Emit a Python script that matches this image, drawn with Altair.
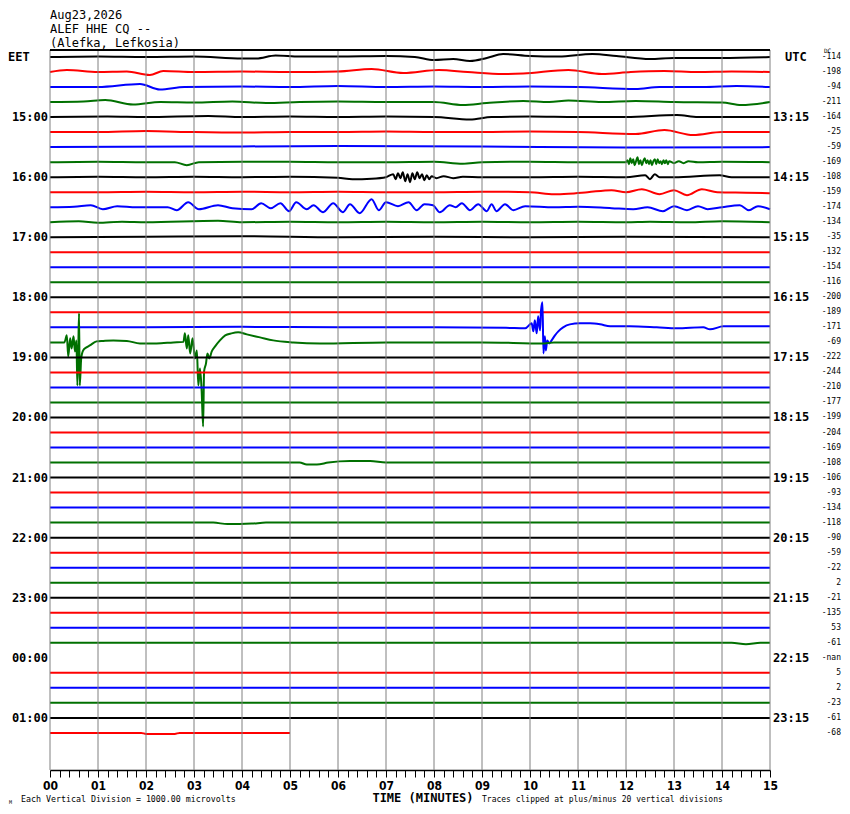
import altair as alt
import pandas as pd

# ---------------- data ----------------
TRACE_COLORS = ["#000000", "#ff0000", "#0000ff", "#007000"]
N_ROWS = 46
MISSING_ROWS = [40]
ROW_END = {45: 5.0}
ROW_SPACING_UNITS = 15.0  # amplitude units per trace spacing

DC_VALUES = ["-114", "-198", "-94", "-211", "-164", "-25", "-59", "-169",
             "-108", "-159", "-174", "-134", "-35", "-132", "-154", "-116",
             "-200", "-189", "-171", "-69", "-222", "-244", "-210", "-177",
             "-199", "-204", "-169", "-108", "-106", "-93", "-134", "-118",
             "-90", "-59", "-22", "2", "-21", "-135", "53", "-61",
             "-nan", "5", "2", "-23", "-61", "-68"]

HOUR_ROWS = [4, 8, 12, 16, 20, 24, 28, 32, 36, 40, 44]
EET_LABELS = ["15:00", "16:00", "17:00", "18:00", "19:00", "20:00",
              "21:00", "22:00", "23:00", "00:00", "01:00"]
UTC_LABELS = ["13:15", "14:15", "15:15", "16:15", "17:15", "18:15",
              "19:15", "20:15", "21:15", "22:15", "23:15"]

MINUTES = list(range(16))
MINOR_TICKS = [round(i / 5, 1) for i in range(76)]

# (minute, amplitude) points; rows not listed are flat
TRACE_POINTS = {
    0: [(0, 0), (1, 0.5), (2, 0), (3, 0.5), (4, -1.5), (4.3, -1.5), (4.7, 1.5),
        (5.2, 0.5), (6, 0.5), (7, 1), (7.6, 0), (8, -3), (8.4, -2), (8.75, -4),
        (9.1, -1), (9.44, 3), (10, 1), (10.6, 0.5), (11.3, 3), (11.8, 1),
        (12.5, -2), (13, -1), (14, -1), (15, 0)],
    1: [(0, 0), (0.35, 2), (1, 0), (1.6, 0.5), (2.08, -3), (2.36, 1), (3, 0),
        (4, 0.5), (5, 0), (6, 0.5), (6.7, 3), (7.36, -1), (8.1, 2), (8.7, 0),
        (9.44, -2), (9.86, -1.5), (10.8, 2), (11.5, -2), (12.1, 0), (12.8, 1),
        (13.5, 0), (14.2, 0.5), (15, 0)],
    2: [(0, 0), (1, 0), (1.875, 3), (2.29, -2.5), (2.8, 0), (4, 0.5), (5, 0),
        (6, 1), (7, 0), (8, 0.5), (9, 0), (10, 0.5), (11, 0), (12.2, -2),
        (12.7, 0), (13.6, 0), (14.3, 1), (15, 0)],
    3: [(0, 0), (0.7, 0.5), (1.15, 2), (1.73, -2.5), (2.3, 0), (3, -0.5),
        (3.8, 0.5), (4.5, -1), (5.2, 0), (6, 0.5), (7, 0), (8, 0), (8.6, -3),
        (9.1, -1), (9.86, 1), (10.4, 0), (10.8, 1.5), (11.5, 0), (12.2, 1),
        (13, 0), (14, -0.5), (14.4, -3), (15, 0)],
    4: [(0, 0), (1.2, 0.5), (2, 0), (3.3, 1), (4, 0), (5, 0.5), (6, 0),
        (7, 0.5), (8, 0), (8.75, -2.5), (9.2, 0), (10, 0.5), (11, 0), (12, 0),
        (13.06, 2), (13.5, 0), (15, 0)],
    5: [(0, 0), (1, 0), (2, 1), (3, 0), (4, -0.5), (5, 0), (6, 0), (7, 0.5),
        (8, 0), (9, 0), (10, 0.5), (11, 0), (12.2, -2), (12.8, 2), (13.4, -3),
        (14, 0), (15, 0)],
    6: [(0, 0), (3, 0.5), (6, 1), (9, 0.5), (12, -0.5), (15, 0)],
    7: [(0, 0), (1, 0.5), (2, 0), (2.6, 0), (2.85, -3), (3.1, 0), (4, 0.5),
        (5, 0.5), (6, 0), (7, 0), (8, 0.5), (8.6, -1.5), (9, 0), (10, 0.5),
        (11, 0), (12.0, 0), (12.03, 2), (12.06, -2), (12.09, 4), (12.12, -1),
        (12.15, 3), (12.18, -3), (12.21, 1), (12.24, 5), (12.27, -2), (12.3, 2),
        (12.33, -3), (12.36, 1), (12.39, 4), (12.42, -1), (12.45, 2),
        (12.48, -2), (12.51, 2), (12.54, -3), (12.57, 1), (12.6, 3),
        (12.63, -2), (12.66, 3), (12.69, -1), (12.72, 1), (12.75, -2),
        (12.78, 2), (12.81, -1), (12.84, 2), (12.87, -2), (12.9, 1),
        (13.0, -1), (13.1, 1), (13.2, -1), (13.3, 1), (13.5, 0), (14, 0.5),
        (15, 0)],
    8: [(0, 0), (1, 0.5), (2, 0), (3, 0.5), (4, 0), (5, 0.5), (6, -0.5),
        (6.3, -2), (6.7, -1.5), (7.0, 0), (7.15, 3), (7.2, -2), (7.25, 4),
        (7.3, -1), (7.35, 5), (7.4, -4), (7.45, 3), (7.5, -5), (7.55, 4),
        (7.6, -2), (7.65, 5), (7.7, -1), (7.75, 3), (7.8, -3), (7.85, 2),
        (7.9, -2), (7.95, 1), (8.05, -1), (8.2, 1), (8.4, -1), (8.6, 0.5),
        (9, 0), (10, 0), (11, 0.5), (12, 0), (12.4, 2), (12.5, -2), (12.6, 3),
        (12.7, 0), (13, 0), (13.95, 2), (14.2, 0), (15, 0)],
    9: [(0, 0), (1, 0), (2, 0.5), (3, 0), (4, 0.5), (5, 0), (6, 0.5), (7, 0),
        (8, 0), (9, 0.5), (10, 0), (10.5, -2), (10.8, -1.5), (11.2, 0),
        (11.7, 2), (12.0, 0), (12.33, 3), (12.7, -2), (13.0, 2), (13.27, -3),
        (13.58, 3), (13.9, 0), (14.5, -0.5), (15, -1)],
    10: [(0, 0), (0.5, 0.5), (0.85, 2), (1.1, -2), (1.4, 1), (1.8, 0),
         (2.2, 0), (2.45, 0), (2.64, -3), (2.88, 5), (3.1, -2), (3.5, 2),
         (3.8, -1), (4.2, -2), (4.4, 4), (4.6, -1), (4.8, 4), (4.98, -4),
         (5.13, 5), (5.35, -2), (5.49, 2), (5.69, -5), (5.9, 4), (6.1, -5),
         (6.25, 3), (6.45, -6), (6.7, 8), (6.85, -3), (7.0, 5), (7.25, 1),
         (7.47, 5), (7.64, -3), (7.8, 3), (7.98, 2), (8.12, -5), (8.33, 2),
         (8.45, 0), (8.58, 4), (8.75, -3), (8.92, 3), (9.1, -4), (9.2, 3),
         (9.3, -4), (9.48, 3), (9.65, -3), (9.9, 1), (10.5, 0), (11, 0.5),
         (11.7, -1), (12.15, -2), (12.45, 0), (12.77, -4), (13.0, 1),
         (13.27, -3), (13.5, 1), (13.7, -2), (14.0, 0), (14.37, 2),
         (14.56, -3), (14.75, 1), (15, -2)],
    11: [(0, 0), (0.6, 1), (1, -0.5), (1.5, 0.5), (2, 0), (3.5, 1.5), (4, 0),
         (5, 0.5), (6, 0), (7, 0.5), (8, 0), (9, 0.5), (10, 0), (11, 0.5),
         (12, 0), (12.5, 0.5), (13.3, 0), (14, 1), (15, 0)],
    12: [(0, 0), (2, 0.5), (4, 1), (6, 0), (8, 0.5), (10, 0), (12, 0.5), (15, 0)],
    18: [(0, 0), (2, 0), (4, 0.5), (6, 0), (8, 0), (9.5, -0.5), (9.9, -1),
         (10.035, 4), (10.07, -4), (10.10, 7), (10.14, -6), (10.17, 11),
         (10.21, -3), (10.23, 17), (10.26, 25), (10.28, -26), (10.31, -9),
         (10.33, -23), (10.36, -13), (10.40, -16), (10.45, -13), (10.52, -8),
         (10.59, -4), (10.69, 0), (10.83, 3), (11.04, 4), (11.25, 4),
         (11.46, 3), (11.67, 1), (12.08, 1), (12.64, 0), (13.06, -1),
         (13.61, 0), (13.75, -2), (14.03, 1), (15, 1)],
    19: [(0, 0), (0.3, 0), (0.35, 7), (0.38, -14), (0.42, 4), (0.45, -6),
         (0.49, 6), (0.52, -9), (0.55, 2), (0.57, -43), (0.59, -5),
         (0.605, 29), (0.62, -43), (0.65, -16), (0.69, -8), (0.76, -5),
         (0.83, -3), (0.97, 1), (1.11, 1.5), (1.32, 2), (1.6, 1.5),
         (1.875, -1), (2.22, -1), (2.57, 0), (2.78, 0.5), (2.81, 9),
         (2.85, -6), (2.88, 7), (2.92, -11), (2.97, 4), (3.02, -16),
         (3.06, -8), (3.09, -43), (3.125, -26), (3.16, -49), (3.19, -84),
         (3.21, -29), (3.25, -21), (3.28, -11), (3.32, -16), (3.37, -9),
         (3.44, -4), (3.54, 2), (3.65, 7), (3.78, 9), (3.92, 10), (4.1, 8),
         (4.375, 5), (4.65, 2), (5.07, 0), (5.625, -1), (7, 0), (9, 0),
         (10.3, -1), (10.5, 0), (12, 0), (15, 0)],
    27: [(0, 0), (5.2, 0), (5.35, -2), (5.56, -2), (5.8, 0), (6.25, 1.5),
         (6.67, 1.5), (7, 0), (15, 0)],
    31: [(0, 0), (3.4, 0), (3.7, -1.5), (4.2, -1), (4.5, 0), (15, 0)],
    39: [(0, 0), (14.2, 0), (14.5, -1.5), (14.8, 0), (15, 0)],
    45: [(0, 0), (1.9, 0), (2.0, -1), (2.6, -1), (2.7, 0), (5, 0)],
}

# ---------------- build tables ----------------
trace_rows = []
for r in range(N_ROWS):
    if r in MISSING_ROWS:
        continue
    end = ROW_END.get(r, 15.0)
    pts = TRACE_POINTS.get(r, [(0, 0), (end, 0)])
    for i, (t, a) in enumerate(pts):
        trace_rows.append({"row": r, "seq": i, "t": t,
                           "y": r - a / ROW_SPACING_UNITS,
                           "color": TRACE_COLORS[r % 4]})
traces_df = pd.DataFrame(trace_rows)

dc_df = pd.DataFrame({"row": list(range(N_ROWS)), "label": DC_VALUES})
eet_df = pd.DataFrame({"row": HOUR_ROWS, "label": EET_LABELS})
utc_df = pd.DataFrame({"row": HOUR_ROWS, "label": UTC_LABELS})
grid_df = pd.DataFrame({"minute": MINUTES})
head_df = pd.DataFrame({"row": [0, 0], "label": ["EET", "UTC"]})

W, H = 720, 720
xscale = alt.Scale(domain=[0, 15], nice=False, zero=False)
yscale = alt.Scale(domain=[-0.466, 47.47], reverse=True, nice=False, zero=False)

MONO = "DejaVu Sans Mono"

label_expr = ("abs(datum.value - round(datum.value)) < 0.01 ? "
              "(round(datum.value) < 10 ? '0' + round(datum.value) : '' + round(datum.value)) : ''")

x_axis = alt.Axis(values=MINOR_TICKS, labelExpr=label_expr, tickSize=7,
                  tickColor="black", tickWidth=1, domainColor="black",
                  domainWidth=1.5, grid=False, labelFlush=False,
                  labelOverlap=False, labelFont="DejaVu Sans Condensed",
                  labelFontWeight="bold", labelFontSize=12,
                  labelColor="black", labelPadding=3, title=None)

traces = alt.Chart(traces_df).mark_line(strokeWidth=2, interpolate="monotone").encode(
    x=alt.X("t:Q", scale=xscale, axis=x_axis, title=None),
    y=alt.Y("y:Q", scale=yscale, axis=None),
    detail="row:N",
    order="seq:Q",
    color=alt.Color("color:N", scale=None),
)

grid = alt.Chart(grid_df).mark_rule(color="#808080", strokeWidth=1).encode(
    x=alt.X("minute:Q", scale=xscale, axis=x_axis, title=None),
    y=alt.value(0),
    y2=alt.value(H),
)

top_border = alt.Chart(grid_df).mark_rule(color="black", strokeWidth=1.2).encode(
    x=alt.value(0), x2=alt.value(W), y=alt.value(0)
)

eet_text = alt.Chart(eet_df).mark_text(align="right", baseline="middle", font=MONO,
                                       fontSize=12, fontWeight="bold").encode(
    x=alt.value(-2), y=alt.Y("row:Q", scale=yscale, axis=None), text="label:N")

utc_text = alt.Chart(utc_df).mark_text(align="left", baseline="middle", font=MONO,
                                       fontSize=12, fontWeight="bold").encode(
    x=alt.value(723), y=alt.Y("row:Q", scale=yscale, axis=None), text="label:N")

eet_head = alt.Chart(head_df.iloc[[0]]).mark_text(align="left", baseline="middle", font=MONO,
                                                  fontSize=12, fontWeight="bold").encode(
    x=alt.value(-42), y=alt.Y("row:Q", scale=yscale, axis=None), text="label:N")

utc_head = alt.Chart(head_df.iloc[[1]]).mark_text(align="left", baseline="middle", font=MONO,
                                                  fontSize=12, fontWeight="bold").encode(
    x=alt.value(735), y=alt.Y("row:Q", scale=yscale, axis=None), text="label:N")

dc_text = alt.Chart(dc_df).mark_text(align="right", baseline="middle", font=MONO,
                                     fontSize=8).encode(
    x=alt.value(791), y=alt.Y("row:Q", scale=yscale, axis=None), text="label:N")

dc_head = alt.Chart(grid_df.iloc[[0]]).mark_text(align="left", baseline="middle", font=MONO,
                                                 fontSize=6, text="DC").encode(
    x=alt.value(774), y=alt.value(1))


def free_text(txt, x, y, size, weight="normal", align="left"):
    return alt.Chart(grid_df.iloc[[0]]).mark_text(
        align=align, baseline="middle", font=MONO, fontSize=size,
        fontWeight=weight, text=txt, color="black").encode(
        x=alt.value(x), y=alt.value(y))


header = [
    free_text("Aug23,2026", 0, -35, 12),
    free_text("ALEF HHE CQ --", 0, -21, 12),
    free_text("(Alefka, Lefkosia)", 0, -7, 12),
]
footer = [
    free_text("TIME (MINUTES)", 373, 748, 12, "bold", "center"),
    free_text("Each Vertical Division = 1000.00 microvolts", -29, 750, 8.3),
    free_text("Traces clipped at plus/minus 20 vertical divisions", 432, 750, 8),
    free_text("M", -41, 752, 5),
]

chart = alt.layer(
    traces, grid, top_border, eet_text, utc_text, eet_head, utc_head,
    dc_text, dc_head, *header, *footer
).properties(
    width=W, height=H,
    autosize=alt.AutoSizeParams(type="none"),
    padding={"left": 42, "top": 42, "right": 72, "bottom": 36},
    background="white",
).configure_view(stroke=None)

chart.save("out.html", embed_options={"renderer": "svg", "actions": False})
